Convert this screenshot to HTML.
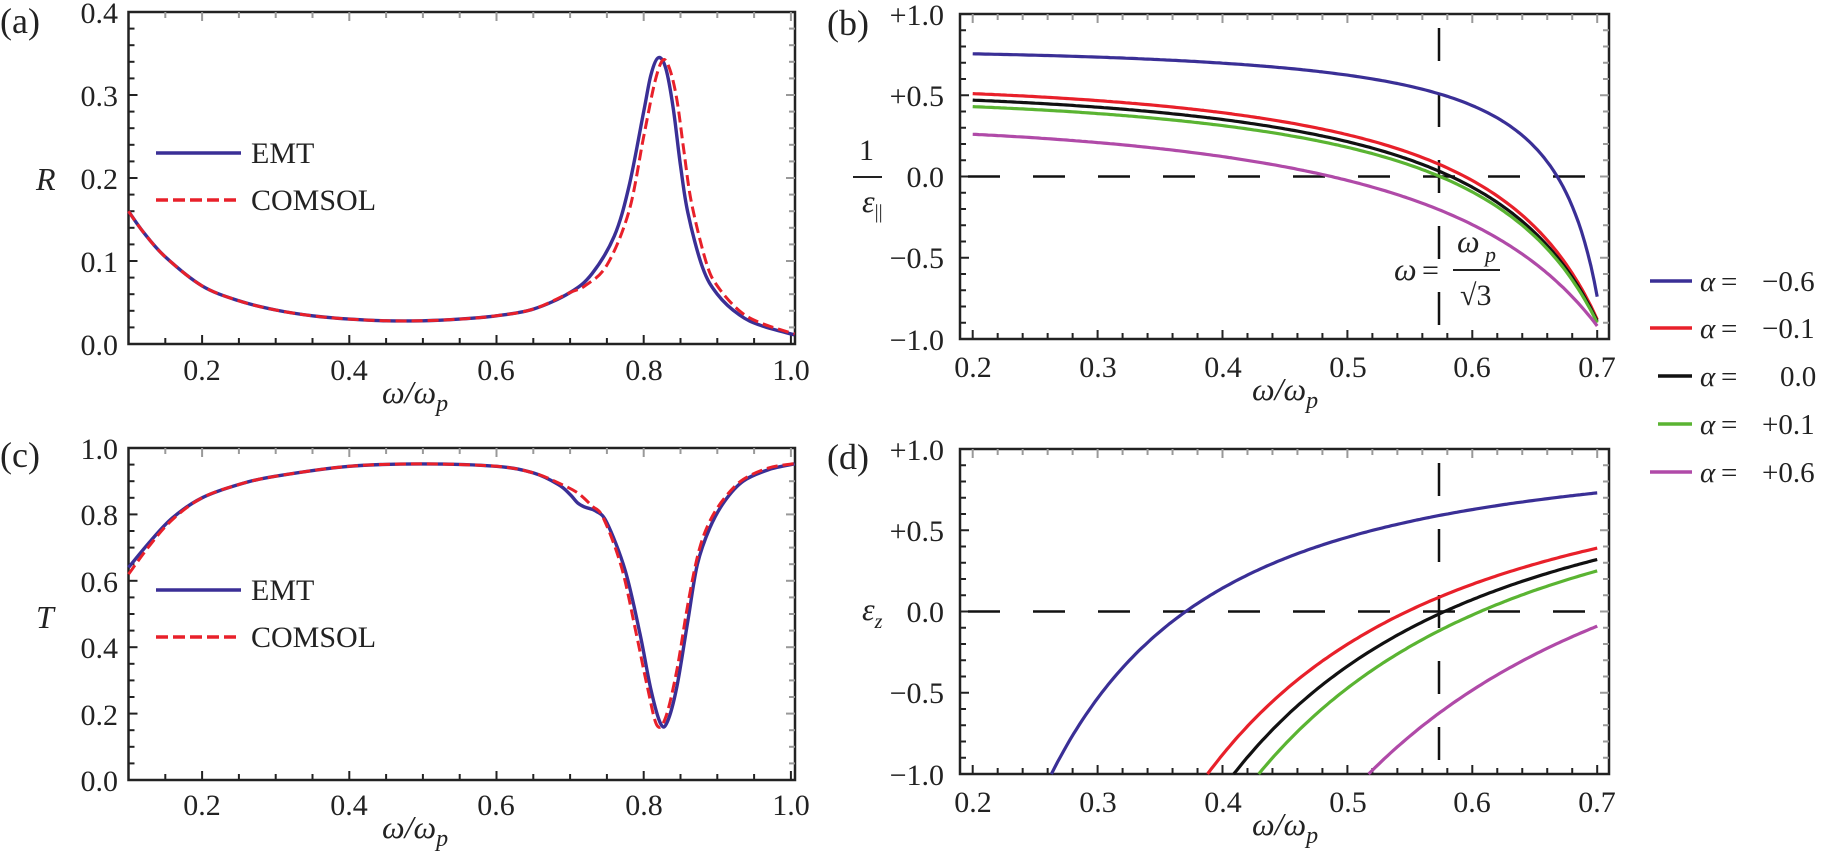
<!DOCTYPE html>
<html><head><meta charset="utf-8"><style>
html,body{margin:0;padding:0;background:#fff;}
svg{display:block;font-family:"Liberation Serif","DejaVu Serif",serif;}
</style></head><body>
<svg id="s" width="1821" height="853" viewBox="0 0 1821 853" xmlns="http://www.w3.org/2000/svg">
<g font-size="30" fill="#222">
<text x="0" y="33" font-size="36">(a)</text>
<text x="0" y="467" font-size="36">(c)</text>
<text x="827" y="35" font-size="36">(b)</text>
<text x="827" y="469" font-size="36">(d)</text>
<g text-anchor="end">
<text x="118" y="23">0.4</text><text x="118" y="106">0.3</text><text x="118" y="189">0.2</text><text x="118" y="272">0.1</text><text x="118" y="355">0.0</text>
<text x="118" y="459">1.0</text><text x="118" y="525">0.8</text><text x="118" y="592">0.6</text><text x="118" y="658">0.4</text><text x="118" y="725">0.2</text><text x="118" y="791">0.0</text>
<text x="944" y="25">+1.0</text><text x="944" y="187">0.0</text><text x="944" y="106">+0.5</text><text x="944" y="268">−0.5</text><text x="944" y="350">−1.0</text>
<text x="944" y="460">+1.0</text><text x="944" y="622">0.0</text><text x="944" y="541">+0.5</text><text x="944" y="703">−0.5</text><text x="944" y="785">−1.0</text>
</g>
<g text-anchor="middle">
<text x="202" y="380">0.2</text><text x="349" y="380">0.4</text><text x="496" y="380">0.6</text><text x="644" y="380">0.8</text><text x="791" y="380">1.0</text>
<text x="202" y="815">0.2</text><text x="349" y="815">0.4</text><text x="496" y="815">0.6</text><text x="644" y="815">0.8</text><text x="791" y="815">1.0</text>
<text x="973" y="377">0.2</text><text x="1098" y="377">0.3</text><text x="1223" y="377">0.4</text><text x="1348" y="377">0.5</text><text x="1472" y="377">0.6</text><text x="1597" y="377">0.7</text>
<text x="973" y="812">0.2</text><text x="1098" y="812">0.3</text><text x="1223" y="812">0.4</text><text x="1348" y="812">0.5</text><text x="1472" y="812">0.6</text><text x="1597" y="812">0.7</text>
</g>
<g font-style="italic" font-size="32">
<text x="382" y="403">ω/ω<tspan font-size="24" dy="8">p</tspan></text>
<text x="382" y="838">ω/ω<tspan font-size="24" dy="8">p</tspan></text>
<text x="1252" y="400">ω/ω<tspan font-size="24" dy="8">p</tspan></text>
<text x="1252" y="835">ω/ω<tspan font-size="24" dy="8">p</tspan></text>
<text x="36" y="190">R</text>
<text x="36" y="628">T</text>
<text x="862" y="212">ε<tspan font-size="20" font-style="normal" dy="6">||</tspan></text>
<text x="862" y="620">ε<tspan font-size="20" dy="8">z</tspan></text>
<text x="1394" y="280">ω</text>
<text x="1457" y="252">ω</text><text x="1485" y="262" font-size="22">p</text>
</g>
<text x="859" y="160" font-size="30">1</text>
<line x1="853" y1="177" x2="882" y2="177" stroke="#222" stroke-width="2"/>
<text x="1422" y="280" font-size="30">=</text>
<line x1="1453" y1="270" x2="1500" y2="270" stroke="#222" stroke-width="2"/>
<text x="1460" y="305" font-size="30">√3</text>
<text x="251" y="163">EMT</text><text x="251" y="210">COMSOL</text>
<text x="251" y="600">EMT</text><text x="251" y="647">COMSOL</text>
<g font-size="29">
<text x="1700" y="291" font-style="italic">α</text><text x="1721" y="291">=</text><text x="1762" y="291">−0.6</text>
<text x="1700" y="338" font-style="italic">α</text><text x="1721" y="338">=</text><text x="1762" y="338">−0.1</text>
<text x="1700" y="386" font-style="italic">α</text><text x="1721" y="386">=</text><text x="1780" y="386">0.0</text>
<text x="1700" y="434" font-style="italic">α</text><text x="1721" y="434">=</text><text x="1762" y="434">+0.1</text>
<text x="1700" y="482" font-style="italic">α</text><text x="1721" y="482">=</text><text x="1762" y="482">+0.6</text>
</g>
</g>
<g stroke-width="3.5">
<line x1="156" y1="153" x2="241" y2="153" stroke="#3a2f96"/>
<line x1="156" y1="200" x2="241" y2="200" stroke="#e8202a" stroke-dasharray="12,5"/>
<line x1="156" y1="590" x2="241" y2="590" stroke="#3a2f96"/>
<line x1="156" y1="637" x2="241" y2="637" stroke="#e8202a" stroke-dasharray="12,5"/>
<line x1="1650" y1="281" x2="1692" y2="281" stroke="#3a2f96"/>
<line x1="1650" y1="328" x2="1692" y2="328" stroke="#e8202a"/>
<line x1="1658" y1="376" x2="1692" y2="376" stroke="#111"/>
<line x1="1658" y1="424" x2="1692" y2="424" stroke="#5ab432"/>
<line x1="1650" y1="472" x2="1692" y2="472" stroke="#b04aa8"/>
</g>
<g id="dyn"></g>
</svg>
<script>
var NS="http://www.w3.org/2000/svg",G=document.getElementById("dyn");
function el(t,a){var e=document.createElementNS(NS,t);for(var k in a)e.setAttribute(k,a[k]);G.appendChild(e);return e;}
function spline(pts){
 var d="M"+pts[0][0].toFixed(1)+","+pts[0][1].toFixed(1);
 for(var i=0;i<pts.length-1;i++){var p0=pts[i-1]||pts[i],p1=pts[i],p2=pts[i+1],p3=pts[i+2]||p2;
  var c1=[p1[0]+(p2[0]-p0[0])/6,p1[1]+(p2[1]-p0[1])/6],c2=[p2[0]-(p3[0]-p1[0])/6,p2[1]-(p3[1]-p1[1])/6];
  d+="C"+c1[0].toFixed(1)+","+c1[1].toFixed(1)+" "+c2[0].toFixed(1)+","+c2[1].toFixed(1)+" "+p2[0].toFixed(1)+","+p2[1].toFixed(1);}
 return d;}
function poly(pts){return "M"+pts.map(function(p){return p[0].toFixed(1)+","+p[1].toFixed(1);}).join("L");}
function P(fx,fy,l){return l.map(function(p){return [fx(p[0]),fy(p[1])];});}
var AX=function(x){return 128.5+(x-0.1)*736;};
var AY=function(y){return 344-y*830;};
var CY=function(y){return 780-y*332;};
var BX=function(x){return 972.7+(x-0.2)*1249;};
var BY=function(y){return 176.5-y*162.5;};
var DY=function(y){return 611.5-y*162.5;};
function frame(x0,y0,x1,y1){el("rect",{x:x0,y:y0,width:x1-x0,height:y1-y0,fill:"none",stroke:"#222","stroke-width":2.5});}
function tk(x1,y1,x2,y2,c){el("line",{x1:x1,y1:y1,x2:x2,y2:y2,stroke:c||"#222","stroke-width":2});}
[[12,344,AY],[448,780,CY]].forEach(function(f,k){
 var t=f[0],b=f[1];frame(128.5,t,795,b);
 for(var x=0.15;x<1.001;x+=0.05){var px=AX(x),L=(Math.abs(x*10-Math.round(x*10))<0.01&&Math.round(x*10)%2==0)?9:6;tk(px,b,px,b-L);tk(px,t,px,t+L,"#999");}
 var step=k==0?0.02:0.05,mx=k==0?0.4:1.0;
 for(var y=step;y<mx-1e-6;y+=step){var py=f[2](y);var major=k==0?Math.abs(y*10-Math.round(y*10))<0.01:Math.abs(y*5-Math.round(y*5))<0.01;var L=major?9:6;tk(128.5,py,128.5+L,py);tk(795,py,795-L,py,"#999");}
});
[[14,339,BY],[449,774,DY]].forEach(function(f){
 var t=f[0],b=f[1];frame(960,t,1609,b);
 for(var i=0;i<=25;i++){var x=0.2+i*0.02,px=BX(x),L=(i%5==0)?9:6;tk(px,b,px,b-L);tk(px,t,px,t+L,"#999");}
 for(var j=-9;j<=9;j++){var py=f[2](j/10),L=(j%5==0)?9:6;tk(960,py,960+L,py);tk(1609,py,1609-L,py,"#999");}
 el("line",{x1:960,y1:f[2](0),x2:1609,y2:f[2](0),stroke:"#111","stroke-width":2.5,"stroke-dasharray":"32,33","stroke-dashoffset":"-8"});
 el("line",{x1:1439,y1:t-4,x2:1439,y2:b,stroke:"#111","stroke-width":2.5,"stroke-dasharray":"33,33","stroke-dashoffset":"-18"});
});
function curve(d,c,w,dash){var a={d:d,fill:"none",stroke:c,"stroke-width":w||3.2,"stroke-linejoin":"round"};if(dash)a["stroke-dasharray"]=dash;el("path",a);}
var BL="#3a2f96",RD="#e8202a",BK="#111",GR="#5ab432",MG="#b04aa8";
var rE=[[0.1,.16],[0.12,.135],[0.15,.105],[0.2,.07],[0.25,.052],[0.3,.041],[0.35,.034],[0.4,.030],[0.45,.028],[0.5,.028],[0.55,.030],[0.6,.034],[0.65,.042],[0.7,.062],[0.73,.085],[0.76,.13],[0.78,.19],[0.80,.28],[0.81,.325],[0.82,.345],[0.83,.332],[0.84,.285],[0.85,.215],[0.86,.158],[0.88,.092],[0.9,.06],[0.93,.035],[0.96,.022],[1.005,.011]];
var rC=rE.slice(0,14).concat([[0.72,.07],[0.75,.095],[0.78,.16],[0.80,.25],[0.815,.315],[0.826,.342],[0.835,.332],[0.845,.295],[0.855,.23],[0.865,.17],[0.885,.098],[0.9,.07],[0.93,.04],[0.96,.025],[1.005,.012]]);
curve(spline(P(AX,AY,rE)),BL,3.4);
curve(spline(P(AX,AY,rC)),RD,3,"11,5");
var tE=[[0.1,.64],[0.13,.72],[0.16,.79],[0.2,.85],[0.25,.89],[0.3,.915],[0.4,.945],[0.5,.952],[0.6,.945],[0.65,.925],[0.684,.89],[0.7,.86],[0.71,.835],[0.72,.822],[0.735,.81],[0.75,.775],[0.775,.63],[0.795,.44],[0.81,.27],[0.823,.17],[0.832,.175],[0.845,.28],[0.86,.48],[0.873,.65],[0.89,.76],[0.91,.84],[0.935,.9],[0.97,.935],[1.005,.952]];
var tC=[[0.1,.62],[0.13,.71],[0.16,.785],[0.2,.85],[0.25,.89],[0.3,.915],[0.4,.945],[0.5,.952],[0.6,.945],[0.65,.925],[0.684,.895],[0.71,.865],[0.73,.825],[0.745,.79],[0.77,.64],[0.79,.44],[0.805,.28],[0.818,.165],[0.83,.19],[0.845,.33],[0.86,.53],[0.875,.69],[0.89,.78],[0.91,.85],[0.935,.905],[0.97,.94],[1.005,.953]];
curve(spline(P(AX,CY,tE)),BL,3.4);
curve(spline(P(AX,CY,tC)),RD,3,"11,5");
// (b): f = A - B/(c - x^2), fit f(0.2)=v0, f(z)=0, f(0.7)=v1
function fitB(v0,z,v1){
 function mk(c){var B=v0/(1/(c-z*z)-1/(c-0.04)),A=B/(c-z*z);return [A,B];}
 function err(c){var ab=mk(c);return ab[0]-ab[1]/(c-0.49)-v1;}
 var lo=0.4901,hi=20;
 for(var i=0;i<200;i++){var m=(lo+hi)/2;var e=err(m);if(e<0)lo=m;else hi=m;}
 var c=(lo+hi)/2,ab=mk(c);return function(x){return ab[0]-ab[1]/(c-x*x);};
}
[[BL,.755,.668,-.74],[RD,.51,.594,-.88],[BK,.47,.583,-.89],[GR,.43,.574,-.9],[MG,.26,.487,-.92]].forEach(function(s){
 var f=fitB(s[1],s[2],s[3]),pts=[];
 for(var x=0.2;x<=0.70001;x+=0.0025)pts.push([BX(x),BY(f(x))]);
 curve(poly(pts),s[0],3.2);
});
// (d): eps = a - b/x^2 through (xs,-1),(0.7,v1)
[[BL,.263,.73],[RD,.388,.39],[BK,.409,.32],[GR,.429,.25],[MG,.517,-.09]].forEach(function(s){
 var xs=s[1],v1=s[2],b=(v1+1)/(1/(xs*xs)-1/0.49),a=-1+b/(xs*xs),pts=[];
 for(var x=xs;x<=0.70001;x+=0.0025)pts.push([BX(x),DY(a-b/(x*x))]);
 pts.push([BX(0.7),DY(v1)]);
 curve(poly(pts),s[0],3.2);
});
</script>
</body></html>
